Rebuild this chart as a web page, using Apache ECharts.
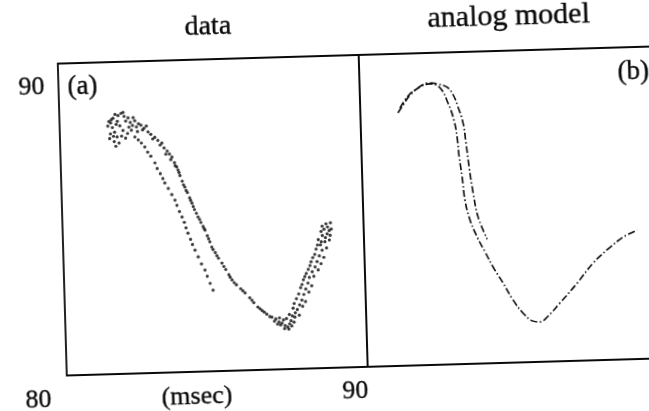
<!DOCTYPE html>
<html>
<head>
<meta charset="utf-8">
<script src="https://cdn.jsdelivr.net/npm/echarts@6/dist/echarts.min.js"></script>
<style>
  html, body { margin: 0; padding: 0; background: #fff; overflow: hidden; width: 649px; height: 411px; }
  #wrap { position: relative; width: 649px; height: 411px; overflow: hidden; background: #fff; }
  #chart { position: absolute; left: 0; top: 0; width: 700px; height: 430px;
           transform-origin: 324.5px 205.5px; transform: rotate(-1.65deg); }
</style>
</head>
<body>
<div id="wrap"><div id="chart"></div></div>
<script>
// ---- axis / text content ----
const axisMin = 80;
const axisMax = 90;
const xTickLabels = ['80', '90'];
const yTickLabels = ['', '90'];
const panelTitles = ['data', 'analog model'];
const panelTags = ['(a)', '(b)'];
const unitLabel = '(msec)';

// ---- panel (a): measured return map (scatter of dots) ----
const dataCluster = [
  [81.70,88.05],[81.78,88.20],[81.85,88.32],[81.95,88.28],[82.05,88.35],[82.15,88.25],
  [81.75,87.90],[81.82,87.75],[81.90,87.60],[81.68,87.70],[81.80,87.45],[81.92,88.10],
  [82.00,87.95],[82.10,87.80],[82.20,88.10],[82.28,88.20],[82.35,88.05],[82.42,87.95],
  [82.50,88.10],[82.25,87.70],[82.18,87.55],[82.05,87.62],[81.96,87.40],[81.72,88.15],
  [81.88,88.00],[82.38,87.80],[82.55,87.90],[82.62,88.00],[81.60,87.95],[81.65,87.55],
  [81.85,87.30],[82.30,87.90],[82.45,88.20],[81.78,87.62],[82.12,88.38],[81.64,88.10],
  [82.58,87.75]
];
const dataOuter = [
  [82.70,87.95],[82.80,87.85],[82.93,87.73],[83.02,87.65],[83.15,87.55],[83.25,87.45],
  [83.38,87.36],[83.45,87.20],[83.55,87.10],[83.62,87.00],[83.70,86.90],[83.78,86.72],
  [83.85,86.58],[83.89,86.48],[83.95,86.30],[84.02,86.12],[84.10,85.93],[84.18,85.75],
  [84.25,85.58],[84.32,85.41],[84.40,85.20],[84.46,85.08],[84.51,84.96],[84.60,84.78],
  [84.67,84.65],[84.73,84.53],[84.80,84.35],[84.88,84.15],[84.94,83.98],[85.05,83.80],
  [85.15,83.62],[85.26,83.46],[85.38,83.25],[85.48,83.08],[85.58,82.91],[85.72,82.75],
  [85.86,82.62],[86.00,82.48],[86.15,82.32],[86.28,82.16],[86.41,82.02],[86.55,81.90],
  [86.70,81.78],[86.87,81.68],[87.00,81.62],[87.10,81.52],[87.20,81.48],[87.30,81.40],
  [87.39,81.35],[87.45,81.45],[87.25,81.58],[87.05,81.45],[87.50,81.55],[87.35,81.62],
  [82.75,87.80],[82.88,87.92],[83.08,87.50],[83.32,87.30],[83.50,87.00],[83.66,86.82],
  [83.80,86.62],[83.92,86.40],[84.06,86.00],[84.14,85.82],[84.28,85.50],[84.36,85.30],
  [84.56,84.88],[84.70,84.58],[84.84,84.25],[84.98,83.90],[85.10,83.70],[85.32,83.35],
  [85.52,83.00],[85.65,82.82],[85.93,82.55],[86.22,82.24],[86.48,81.96],
  [86.95,81.55],[87.15,81.42],[87.28,81.30],[87.42,81.28],[87.52,81.38],[87.60,81.50],
  [86.80,81.70],[86.62,81.85],[87.12,81.65]
];
const dataRise = [
  [87.55,81.70],[87.63,81.66],[87.72,81.90],[87.58,81.95],[87.80,82.05],[87.88,82.20],
  [87.70,82.25],[87.95,82.38],[88.02,82.55],[87.85,82.60],[88.10,82.74],[87.95,82.85],
  [88.15,82.92],[88.05,83.05],[88.25,83.10],[88.35,83.25],[88.18,83.30],[88.42,83.42],
  [88.28,83.55],[88.50,83.60],[88.60,83.78],[88.40,83.82],[88.55,83.95],[88.70,84.05],
  [88.48,84.12],[88.62,84.25],[88.78,84.30],[88.68,84.45],[88.80,84.52],[88.85,84.40],
  [88.58,84.38],[88.90,84.65],
  [87.45,81.75],[87.65,81.80],[87.78,81.72],[87.90,82.00],[87.62,82.10],[88.00,82.15],
  [87.78,82.40],[88.12,82.45],[87.90,82.70],[88.22,82.65],[88.00,82.95],[88.30,82.95],
  [88.12,83.18],[88.45,83.15],[88.22,83.42],[88.55,83.35],[88.35,83.65],[88.65,83.55],
  [88.45,83.95],[88.75,83.85],[88.58,84.05],[88.85,84.10],[88.72,84.18],[88.62,84.55],
  [88.92,84.45],[88.75,84.62],[88.88,84.25]
];
const dataInner = [
  [82.49,87.58],[82.60,87.48],[82.70,87.38],[82.81,87.25],[82.90,87.08],[83.00,86.95],
  [83.13,86.73],[83.20,86.55],[83.30,86.38],[83.38,86.22],[83.44,86.08],[83.55,85.90],
  [83.66,85.70],[83.76,85.52],[83.82,85.35],[83.90,85.15],[83.98,84.97],[84.05,84.80],
  [84.10,84.62],[84.16,84.45],[84.24,84.25],[84.30,84.08],[84.38,83.90],[84.48,83.68],
  [84.58,83.45],[84.69,83.25],[84.76,83.05],[84.85,82.82],[84.94,82.60]
];

// ---- panel (b): analog model trajectory (dash-dot lines) ----
const modelMain = [
  [81.25,88.11],[81.43,88.36],[81.67,88.67],[82.01,88.92],[82.34,89.01],[82.67,88.87],
  [82.92,88.38],[83.10,87.83],[83.19,87.28],[83.24,86.64],[83.32,85.99],[83.39,85.26],
  [83.54,84.61],[83.76,84.06],[84.01,83.57],[84.26,83.08],[84.58,82.56],[84.89,82.01],
  [85.21,81.58],[85.54,81.31],[85.77,81.28],[86.01,81.43],[86.45,81.87],[87.04,82.49],
  [87.59,83.12],[88.17,83.61],[88.61,83.92],[89.08,84.13]
];
const modelSecond = [
  [81.32,88.26],[81.60,88.64],[81.94,88.89],[82.28,89.04],[82.57,89.00],[82.90,88.89],
  [83.10,88.63],[83.25,88.24],[83.40,87.73],[83.48,87.08],[83.56,86.31],[83.67,85.47],
  [83.81,84.70],[84.09,83.98]
];

const FONT = '"Liberation Serif", "DejaVu Serif", serif';
const INK = '#0a0a0a';
const inkText = { color: INK, textBorderColor: INK, textBorderWidth: 0.35 };

const chart = echarts.init(document.getElementById('chart'), null, { renderer: 'canvas' });

function scatter(data) {
  return { type: 'scatter', xAxisIndex: 0, yAxisIndex: 0, data: data,
           symbol: 'circle', symbolSize: 3.2, itemStyle: { color: INK }, silent: true };
}
function dashLine(data) {
  return { type: 'line', xAxisIndex: 1, yAxisIndex: 1, data: data, smooth: 0.4,
           showSymbol: false, silent: true,
           lineStyle: { color: INK, width: 1.6, type: [7, 2.5, 1.5, 2.5] } };
}

const hiddenAxisBits = {
  axisLine: { show: false }, axisTick: { show: false }, splitLine: { show: false }
};

chart.setOption({
  backgroundColor: '#fff',
  animation: false,
  title: [
    { text: panelTitles[0], left: 213, top: 10, textAlign: 'center', padding: 0,
      textStyle: Object.assign({ fontFamily: FONT, fontSize: 28, fontWeight: 'normal' }, inkText) },
    { text: panelTitles[1], left: 514, top: 7, textAlign: 'center', padding: 0,
      textStyle: Object.assign({ fontFamily: FONT, fontSize: 30, fontWeight: 'normal' }, inkText) }
  ],
  grid: [
    { left: 62, top: 56, width: 301, height: 312, show: true, containLabel: false,
      outerBoundsMode: 'none',
      borderColor: INK, borderWidth: 1.8, backgroundColor: 'transparent' },
    { left: 363, top: 56, width: 301, height: 312, show: true, containLabel: false,
      outerBoundsMode: 'none',
      borderColor: INK, borderWidth: 1.8, backgroundColor: 'transparent' }
  ],
  xAxis: [
    Object.assign({
      gridIndex: 0, type: 'value', min: axisMin, max: axisMax, interval: axisMax - axisMin,
      name: unitLabel, nameLocation: 'middle', nameGap: 12, nameMoveOverlap: false,
      nameTextStyle: Object.assign({ fontFamily: FONT, fontSize: 26, verticalAlign: 'top',
                       padding: [0, 42, 0, 0] }, inkText),
      axisLabel: {
        show: true, margin: 11, align: 'right', verticalAlign: 'top',
        formatter: function (v) {
          return v === axisMin ? '{lo|' + xTickLabels[0] + '}' : '{hi|' + xTickLabels[1] + '}';
        },
        rich: {
          lo: Object.assign({ fontFamily: FONT, fontSize: 26, padding: [0, 16, 0, 0] }, inkText),
          hi: Object.assign({ fontFamily: FONT, fontSize: 26, padding: [0, 0, 0, 0] }, inkText)
        }
      }
    }, hiddenAxisBits),
    Object.assign({
      gridIndex: 1, type: 'value', min: axisMin, max: axisMax, interval: axisMax - axisMin,
      axisLabel: { show: false }
    }, hiddenAxisBits)
  ],
  yAxis: [
    Object.assign({
      gridIndex: 0, type: 'value', min: axisMin, max: axisMax, interval: axisMax - axisMin,
      axisLabel: Object.assign({
        show: true, margin: 14, verticalAlign: 'top', padding: [10, 0, 0, 0],
        fontFamily: FONT, fontSize: 26,
        formatter: function (v) { return v === axisMax ? yTickLabels[1] : yTickLabels[0]; }
      }, inkText)
    }, hiddenAxisBits),
    Object.assign({
      gridIndex: 1, type: 'value', min: axisMin, max: axisMax, interval: axisMax - axisMin,
      axisLabel: { show: false }
    }, hiddenAxisBits)
  ],
  graphic: [
    { type: 'text', x: 86, y: 80, silent: true,
      style: { text: panelTags[0], font: '27px ' + FONT, fill: INK, stroke: INK, lineWidth: 0.35,
               align: 'center', verticalAlign: 'middle' } },
    { type: 'text', x: 637, y: 81, silent: true,
      style: { text: panelTags[1], font: '27px ' + FONT, fill: INK, stroke: INK, lineWidth: 0.35,
               align: 'center', verticalAlign: 'middle' } }
  ],
  series: [
    scatter(dataCluster),
    scatter(dataOuter),
    scatter(dataRise),
    scatter(dataInner),
    dashLine(modelMain),
    dashLine(modelSecond)
  ]
});
</script>
</body>
</html>
